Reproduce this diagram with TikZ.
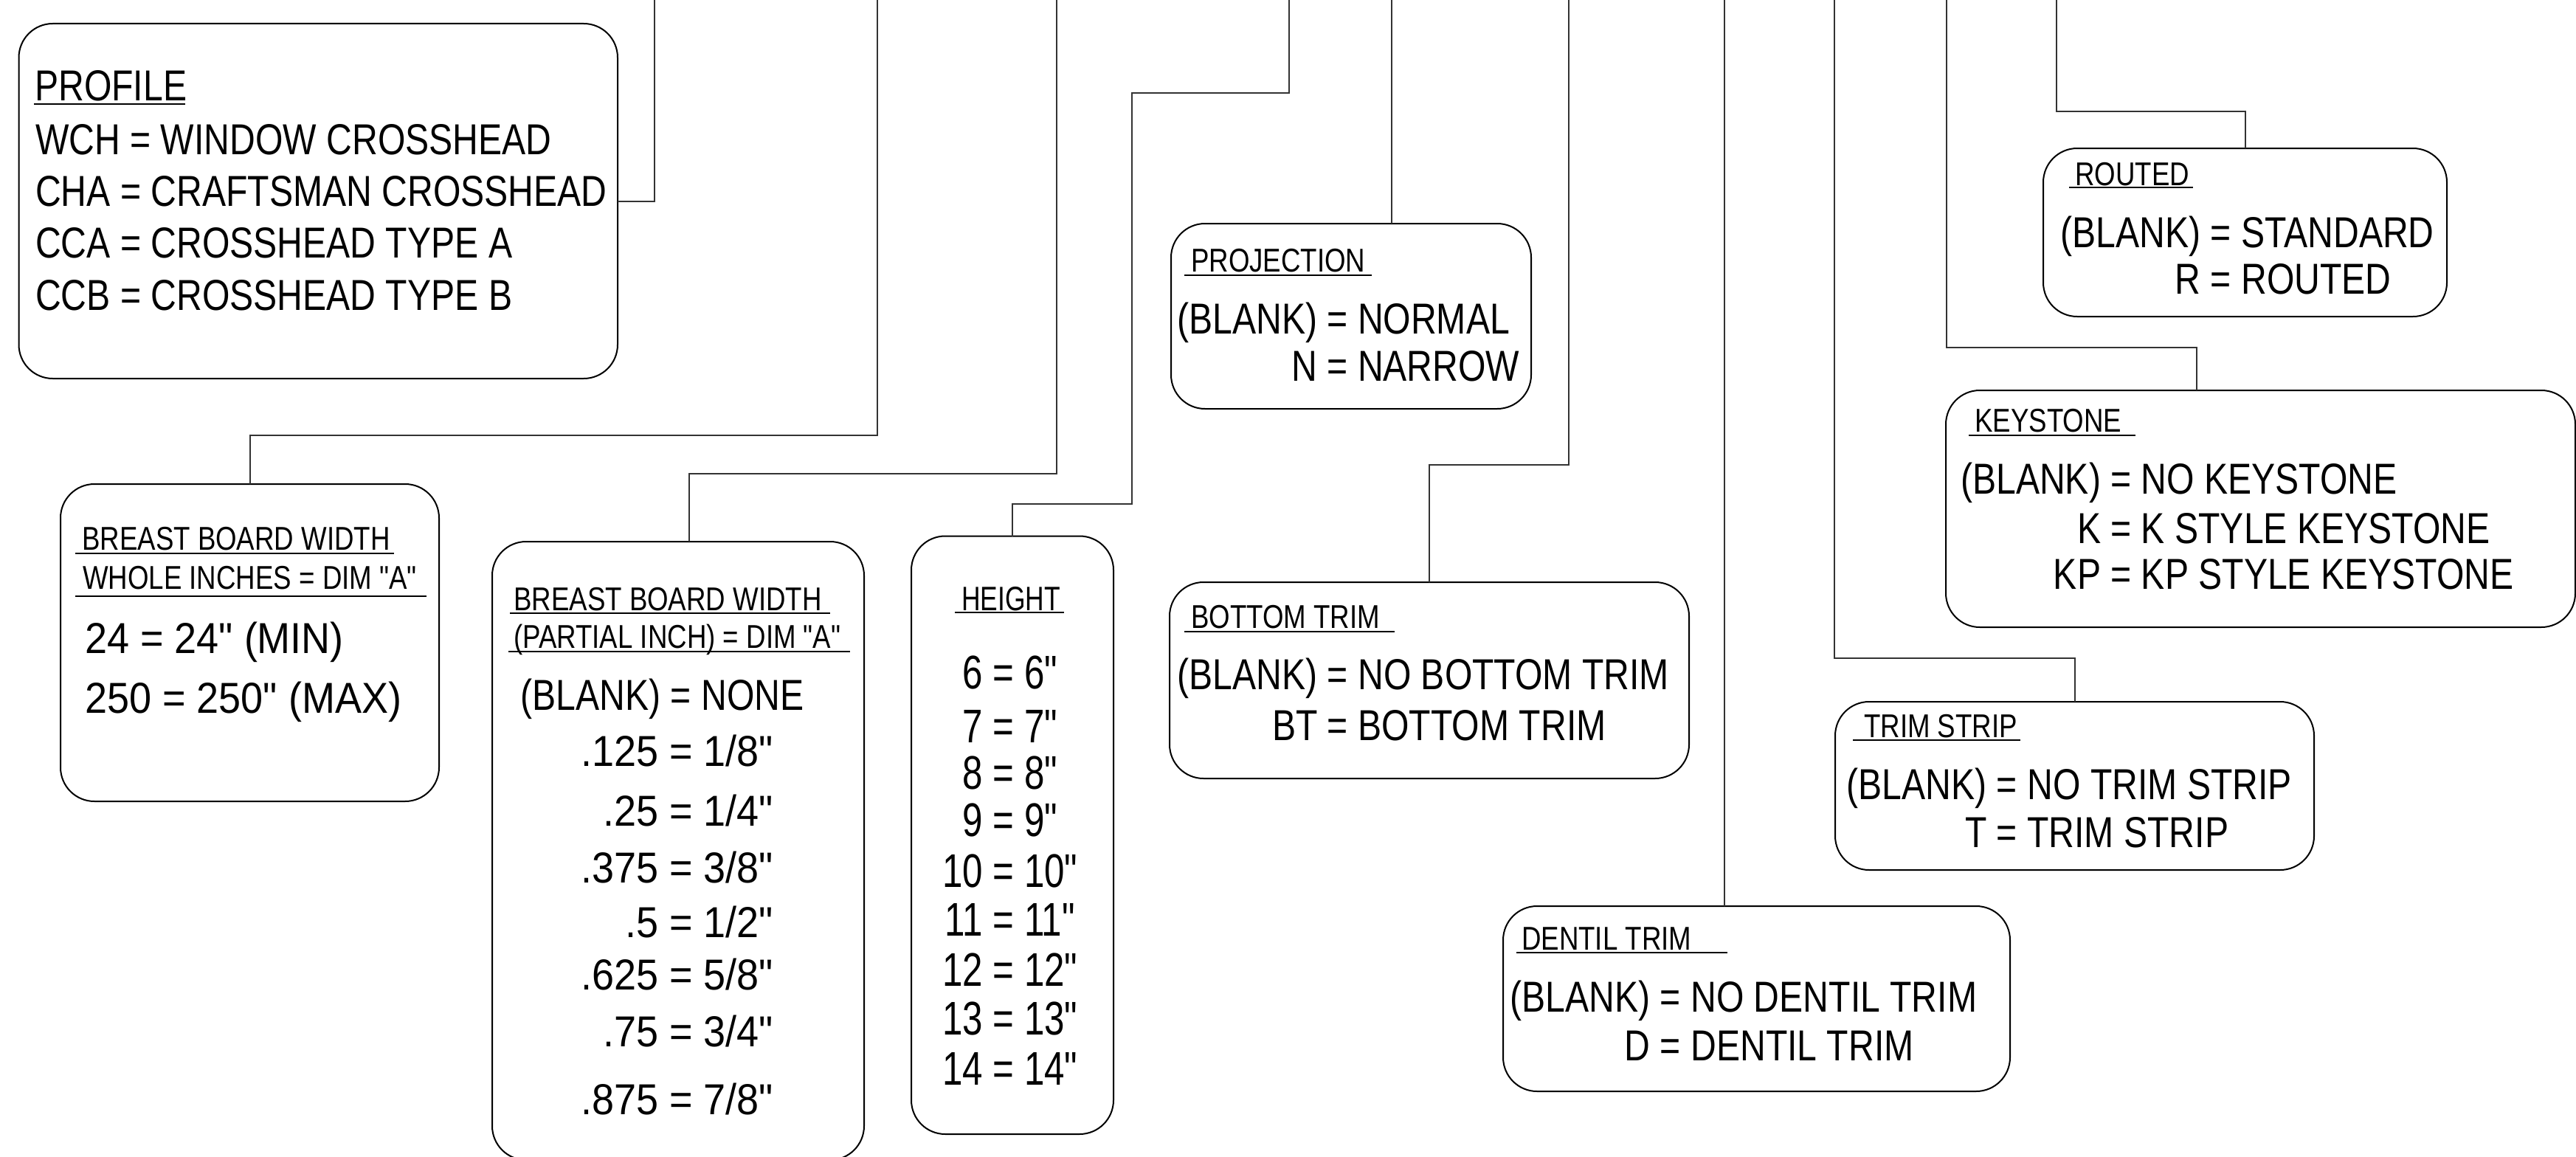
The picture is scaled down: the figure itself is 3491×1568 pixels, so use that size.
\documentclass[tikz,border=0pt]{standalone}
\usepackage{fontspec}
\setmainfont{Liberation Sans}
\newfontfamily\cadf[FakeStretch=0.82]{Liberation Sans}
\newfontfamily\numf[FakeStretch=0.92]{Liberation Sans}
\newfontfamily\hgtf[FakeStretch=0.77]{Liberation Sans}
\newcommand\cadsz[1]{\fontsize{#1}{#1}\selectfont}
\newcommand\eqln[2]{\makebox[0pt][r]{#1\ }=\makebox[0pt][l]{\ #2}}
\begin{document}
\begin{tikzpicture}[x=1pt,y=-1pt,
  box/.style={draw=black,line width=2pt,rounded corners=46pt,inner sep=0pt,outer sep=0pt},
  conn/.style={draw=black!80,line width=2pt},
  hd/.style={anchor=base west,inner sep=0pt,font=\cadf\cadsz{44.7}},
  it/.style={anchor=base west,inner sep=0pt,font=\cadf\cadsz{58.7}},
  itn/.style={anchor=base west,inner sep=0pt,font=\numf\cadsz{58.7}},
  eqi/.style={anchor=base,inner sep=0pt,font=\cadf\cadsz{58.7}},
  eqn/.style={anchor=base,inner sep=0pt,font=\numf\cadsz{58.7}},
  hh/.style={anchor=base west,inner sep=0pt,font=\hgtf\cadsz{46}},
  eqh/.style={anchor=base,inner sep=0pt,font=\hgtf\cadsz{64}},
  uln/.style={draw=black,line width=2pt}]
\useasboundingbox[fill=white] (0,0) rectangle (3491,1568);

% ---------- boxes ----------
\node[box,minimum width=811.5pt,minimum height=481pt] (pfl) at (431.25,272.5) {};
\node[box,minimum width=513pt,minimum height=430pt] (bbw1) at (338.5,871) {};
\node[box,minimum width=504pt,minimum height=838pt] (bbw2) at (919,1153) {};
\node[box,minimum width=274pt,minimum height=810.5pt] (hgt) at (1372,1131.75) {};
\node[box,minimum width=488pt,minimum height=251pt] (prj) at (1831,428.5) {};
\node[box,minimum width=704pt,minimum height=266pt] (btm) at (1937,922) {};
\node[box,minimum width=687pt,minimum height=251pt] (dnt) at (2380.5,1353.5) {};
\node[box,minimum width=649pt,minimum height=228pt] (trs) at (2811.5,1065) {};
\node[box,minimum width=547pt,minimum height=228pt] (rtd) at (3042.5,315) {};
\node[box,minimum width=853pt,minimum height=321pt] (kys) at (3063.5,689.5) {};

% ---------- connector ends / bends ----------
\coordinate (e1) at (887,0);
\coordinate (b2) at (1189,590);    \coordinate (e2) at (1189,0);
\coordinate (b3) at (1432,641.6);  \coordinate (e3) at (1432,0);
\coordinate (b4a) at (1534,683);   \coordinate (b4b) at (1747,126); \coordinate (e4) at (1747,0);
\coordinate (e5) at (1886,0);
\coordinate (b6) at (2125.5,629.5); \coordinate (e6) at (2125.5,0);
\coordinate (e7) at (2336.6,0);
\coordinate (b8) at (2486,891.5);  \coordinate (e8) at (2486,0);
\coordinate (k9) at (2977,0);
\coordinate (b9) at (2638,470.7);  \coordinate (e9) at (2638,0);
\coordinate (b10) at (2787,151);   \coordinate (e10) at (2787,0);

\draw[conn] (pfl.east) -| (e1);
\draw[conn] (bbw1.north) |- (b2) -- (e2);
\draw[conn] ([xshift=15pt]bbw2.north) |- (b3) -- (e3);
\draw[conn] (hgt.north) |- (b4a) |- (b4b) -- (e4);
\draw[conn] (prj.north -| e5) -- (e5);
\draw[conn] (btm.north) |- (b6) -- (e6);
\draw[conn] (dnt.north -| e7) -- (e7);
\draw[conn] (trs.north) |- (b8) -- (e8);
\draw[conn] (kys.north -| k9) |- (b9) -- (e9);
\draw[conn] (rtd.north) |- (b10) -- (e10);

% ---------- PROFILE ----------
\node[it] (pflh) at (47,136) {PROFILE};
\draw[uln] (46,141) -- (251,141);
\node[it] (pfl1) at (48,209) {WCH = WINDOW CROSSHEAD};
\node[it] (pfl2) at (48,279) {CHA = CRAFTSMAN CROSSHEAD};
\node[it] (pfl3) at (48,349) {CCA = CROSSHEAD TYPE A};
\node[it] (pfl4) at (48,420) {CCB = CROSSHEAD TYPE B};

% ---------- BREAST BOARD WIDTH (whole) ----------
\node[hd] (bw1h) at (111,745) {BREAST BOARD WIDTH};
\draw[uln] (102,750) -- (534,750);
\node[hd] (bw1s) at (112,798) {WHOLE INCHES = DIM "A"};
\draw[uln] (102,807.5) -- (578,807.5);
\node[itn] (bw1a) at (115,885) {24 = 24" (MIN)};
\node[itn] (bw1b) at (115,966) {250 = 250" (MAX)};

% ---------- BREAST BOARD WIDTH (partial) ----------
\node[hd] (bw2h) at (696,827) {BREAST BOARD WIDTH};
\draw[uln] (691,831) -- (1125,831);
\node[hd] (bw2s) at (696,878) {(PARTIAL INCH) = DIM "A"};
\draw[uln] (689,883) -- (1152,883);
\node[eqi] (bw2a) at (923,962) {\eqln{(BLANK)}{NONE}};
\node[eqn] (bw2b) at (923,1038) {\eqln{.125}{1/8"}};
\node[eqn] (bw2c) at (923,1119) {\eqln{.25}{1/4"}};
\node[eqn] (bw2d) at (923,1196) {\eqln{.375}{3/8"}};
\node[eqn] (bw2e) at (923,1270) {\eqln{.5}{1/2"}};
\node[eqn] (bw2f) at (923,1341) {\eqln{.625}{5/8"}};
\node[eqn] (bw2g) at (923,1418) {\eqln{.75}{3/4"}};
\node[eqn] (bw2i) at (923,1510) {\eqln{.875}{7/8"}};

% ---------- HEIGHT ----------
\node[hh] (hgth) at (1303,827) {HEIGHT};
\draw[uln] (1294,830) -- (1442,830);
\node[eqh] (h6) at (1360,933) {\eqln{6}{6"}};
\node[eqh] (h7) at (1360,1006) {\eqln{7}{7"}};
\node[eqh] (h8) at (1360,1069) {\eqln{8}{8"}};
\node[eqh] (h9) at (1360,1133) {\eqln{9}{9"}};
\node[eqh] (h10) at (1360,1202) {\eqln{10}{10"}};
\node[eqh] (h11) at (1360,1268) {\eqln{11}{11"}};
\node[eqh] (h12) at (1360,1336) {\eqln{12}{12"}};
\node[eqh] (h13) at (1360,1402) {\eqln{13}{13"}};
\node[eqh] (h14) at (1360,1470) {\eqln{14}{14"}};

% ---------- PROJECTION ----------
\node[hd] (prjh) at (1614,368) {PROJECTION};
\draw[uln] (1605,372.5) -- (1859,372.5);
\node[eqi] (prj1) at (1812.6,452) {\eqln{(BLANK)}{NORMAL}};
\node[eqi] (prj2) at (1812.6,516) {\eqln{N}{NARROW}};

% ---------- BOTTOM TRIM ----------
\node[hd] (btmh) at (1614,851.5) {BOTTOM TRIM};
\draw[uln] (1605,855.5) -- (1890,855.5);
\node[eqi] (btm1) at (1813,934) {\eqln{(BLANK)}{NO BOTTOM TRIM}};
\node[eqi] (btm2) at (1813,1003.5) {\eqln{BT}{BOTTOM TRIM}};

% ---------- DENTIL TRIM ----------
\node[hd] (dnth) at (2062,1287) {DENTIL TRIM};
\draw[uln] (2055,1291) -- (2341,1291);
\node[eqi] (dnt1) at (2264,1371) {\eqln{(BLANK)}{NO DENTIL TRIM}};
\node[eqi] (dnt2) at (2264,1437) {\eqln{D}{DENTIL TRIM}};

% ---------- TRIM STRIP ----------
\node[hd] (trsh) at (2526,999) {TRIM STRIP};
\draw[uln] (2511,1003) -- (2738,1003);
\node[eqi] (trs1) at (2720,1083) {\eqln{(BLANK)}{NO TRIM STRIP}};
\node[eqi] (trs2) at (2720,1148) {\eqln{T}{TRIM STRIP}};

% ---------- ROUTED ----------
\node[hd] (rtdh) at (2812,251) {ROUTED};
\draw[uln] (2804,254) -- (2972,254);
\node[eqi] (rtd1) at (3010,335) {\eqln{(BLANK)}{STANDARD}};
\node[eqi] (rtd2) at (3010,398) {\eqln{R}{ROUTED}};

% ---------- KEYSTONE ----------
\node[hd] (kysh) at (2676,585.5) {KEYSTONE};
\draw[uln] (2668,589.5) -- (2894,589.5);
\node[eqi] (kys1) at (2874.5,669) {\eqln{(BLANK)}{NO KEYSTONE}};
\node[eqi] (kys2) at (2874.5,736) {\eqln{K}{K STYLE KEYSTONE}};
\node[eqi] (kys3) at (2874.5,798) {\eqln{KP}{KP STYLE KEYSTONE}};
\end{tikzpicture}
\end{document}
